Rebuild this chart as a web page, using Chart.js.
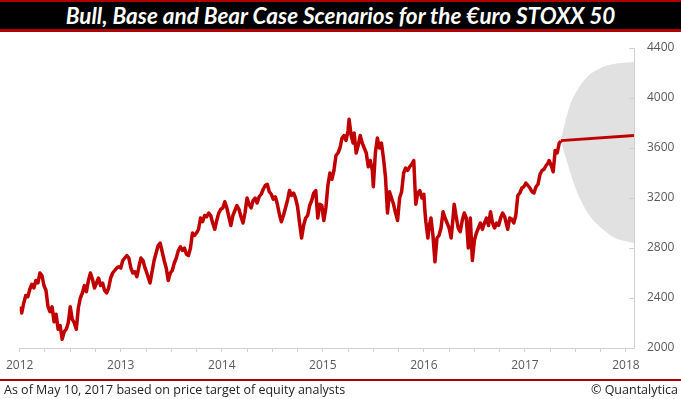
<!DOCTYPE html>
<html>
<head>
<meta charset="utf-8">
<script src="https://cdn.jsdelivr.net/npm/chart.js@4.4.1/dist/chart.umd.min.js"></script>
<style>
  html, body { margin:0; padding:0; background:#fff; }
  #wrap { position:relative; width:681px; height:399px; overflow:hidden; background:#fff; }
  #c { position:absolute; left:0; top:0; }
  #title { position:absolute; left:0; top:0; width:681px; height:27px; background:#000;
           border-top:2px solid #b00000; border-bottom:3px solid #b00000;
           color:#fff; text-align:center; font-family:Lato, "Open Sans", sans-serif;
           font-style:italic; font-weight:bold; font-size:19px; line-height:27px; white-space:nowrap; }
  #footline { position:absolute; left:0; top:379px; width:681px; height:2px; background:#b00000; }
  .foot { position:absolute; top:381px; font-family:"Open Sans", "Noto Sans", sans-serif; font-size:12.5px; color:#222; line-height:17px; white-space:nowrap; }
  #fl { left:4px; }
  #fr { right:3px; }
</style>
</head>
<body>
<div id="wrap">
  <canvas id="c" width="681" height="399"></canvas>
  <div id="title"><span id="tt">Bull, Base and Bear Case Scenarios for the €uro STOXX 50</span></div>
  <div id="footline"></div>
  <div class="foot" id="fl">As of May 10, 2017 based on price target of equity analysts</div>
  <div class="foot" id="fr">© Quantalytica</div>
</div>
<script>
// ---- data (decimal years, index level) ----
const histDates = [
2012.00,2012.02,2012.04,2012.06,2012.08,2012.10,2012.12,2012.14,2012.16,2012.18,2012.20,2012.22,2012.24,2012.26,2012.28,2012.30,2012.32,2012.34,2012.36,2012.38,2012.40,2012.42,2012.44,2012.46,2012.48,2012.49,2012.50,2012.52,2012.54,2012.56,2012.58,2012.60,2012.62,2012.64,2012.66,2012.68,2012.70,2012.72,2012.74,2012.76,2012.78,2012.80,2012.82,2012.84,2012.86,2012.88,2012.90,2012.92,2012.94,2012.96,2012.98,
2013.00,2013.02,2013.04,2013.06,2013.08,2013.10,2013.12,2013.14,2013.16,2013.18,2013.20,2013.22,2013.24,2013.25,2013.27,2013.29,2013.31,2013.33,2013.35,2013.37,2013.39,2013.41,2013.43,2013.45,2013.47,2013.49,2013.51,2013.53,2013.55,2013.57,2013.59,2013.61,2013.63,2013.65,2013.67,2013.69,2013.71,2013.73,2013.75,2013.77,2013.79,2013.81,2013.83,2013.85,2013.87,2013.89,2013.91,2013.93,2013.95,2013.97,2013.99,
2014.01,2014.03,2014.05,2014.07,2014.09,2014.11,2014.13,2014.15,2014.17,2014.19,2014.21,2014.23,2014.25,2014.27,2014.29,2014.31,2014.33,2014.35,2014.37,2014.39,2014.41,2014.43,2014.45,2014.47,2014.49,2014.51,2014.53,2014.55,2014.57,2014.59,2014.61,2014.63,2014.65,2014.67,2014.69,2014.71,2014.73,2014.75,2014.77,2014.79,2014.81,2014.83,2014.85,2014.87,2014.89,2014.91,2014.93,2014.95,2014.97,2014.99,
2015.01,2015.03,2015.05,2015.07,2015.09,2015.11,2015.13,2015.15,2015.17,2015.19,2015.21,2015.23,2015.25,2015.26,2015.28,2015.30,2015.31,2015.33,2015.35,2015.37,2015.39,2015.41,2015.43,2015.45,2015.47,2015.49,2015.50,2015.52,2015.54,2015.56,2015.58,2015.60,2015.62,2015.64,2015.66,2015.68,2015.70,2015.72,2015.74,2015.76,2015.78,2015.80,2015.82,2015.84,2015.86,2015.88,2015.90,2015.92,2015.94,2015.96,2015.98,
2016.00,2016.01,2016.02,2016.04,2016.05,2016.07,2016.09,2016.11,2016.13,2016.15,2016.17,2016.19,2016.21,2016.23,2016.25,2016.27,2016.29,2016.30,2016.32,2016.34,2016.36,2016.38,2016.40,2016.42,2016.44,2016.46,2016.48,2016.50,2016.52,2016.54,2016.56,2016.58,2016.60,2016.62,2016.64,2016.66,2016.68,2016.70,2016.72,2016.74,2016.76,2016.78,2016.80,2016.83,2016.85,2016.87,2016.89,2016.91,2016.93,2016.95,2016.97,2016.99,
2017.01,2017.03,2017.05,2017.07,2017.09,2017.11,2017.13,2017.15,2017.17,2017.19,2017.21,2017.23,2017.24,2017.26,2017.28,2017.30,2017.32,2017.34,2017.355
];
const histValues = [
2330,2280,2360,2420,2410,2470,2510,2480,2540,2520,2600,2580,2500,2460,2330,2290,2330,2210,2270,2150,2180,2070,2130,2150,2200,2260,2330,2230,2200,2150,2320,2400,2440,2500,2450,2540,2600,2550,2480,2520,2560,2500,2520,2460,2440,2480,2560,2600,2620,2640,2650,
2640,2700,2720,2740,2720,2640,2600,2610,2570,2650,2720,2700,2640,2620,2570,2520,2610,2700,2760,2820,2840,2770,2700,2640,2540,2600,2620,2680,2720,2780,2810,2780,2800,2750,2740,2800,2920,2900,2920,2950,3040,3010,3060,3050,3080,3060,3000,2950,3020,3080,3110,
3120,3170,3120,3050,2980,3060,3100,3140,3110,3050,3000,3080,3200,3150,3120,3180,3200,3160,3210,3230,3270,3300,3310,3250,3230,3190,3210,3150,3070,3010,3060,3120,3180,3260,3220,3240,3200,3130,3000,2880,2980,3040,3060,3140,3180,3240,3260,3040,3150,3140,
3020,3120,3300,3400,3350,3420,3540,3560,3600,3680,3700,3660,3740,3830,3700,3640,3720,3560,3620,3700,3640,3600,3560,3450,3500,3420,3290,3560,3680,3600,3640,3520,3370,3080,3250,3200,3150,3080,3020,3200,3250,3400,3440,3420,3450,3470,3500,3150,3240,3260,3200,
3230,3100,3010,2880,2960,3040,2900,2690,2880,2900,2960,3090,3040,3000,2960,2880,3050,3150,3050,2960,2930,3020,3080,3040,2800,3040,2700,2860,2920,2960,3000,2950,3000,3040,2980,3090,3000,2960,3000,2980,3040,3080,3050,2950,3040,3030,3000,3060,3220,3240,3280,3290,
3320,3300,3280,3250,3240,3290,3310,3390,3420,3430,3460,3480,3500,3460,3410,3580,3560,3640,3655
];
// base case (price target path)
const baseDates  = [2017.355, 2018.08];
const baseValues = [3659, 3700];
// bull / bear envelope read from the shaded cone
const bullDates  = [2017.355, 2017.404, 2017.454, 2017.52, 2017.618, 2017.75, 2017.878, 2018.08];
const bullValues = [3655, 3824, 3960, 4064, 4170, 4240, 4272, 4288];
const bearDates  = [2017.355, 2017.421, 2017.483, 2017.552, 2017.65, 2017.78, 2017.89, 2018.08];
const bearValues = [3655, 3480, 3320, 3184, 3048, 2944, 2880, 2840];
// axis ticks
const xMin = 2012, xMax = 2018.08, xStep = 0.25;
const yMin = 2000, yMax = 4400, yStep = 400;

const pts = (xs, ys) => xs.map((x, i) => ({x: x, y: ys[i]}));

// fit title width to reference
(function(){
  const t = document.getElementById('tt');
  const w = t.getBoundingClientRect().width;
  const target = 550;
  const fs = 19 * target / w;
  document.getElementById('title').style.fontSize = fs.toFixed(2) + 'px';
})();

const innerTicks = {
  id: 'innerTicks',
  afterDraw(chart) {
    const ctx = chart.ctx, y = chart.scales.y, area = chart.chartArea;
    ctx.save();
    ctx.strokeStyle = '#d0d0d0';
    ctx.lineWidth = 1;
    y.ticks.forEach(t => {
      const py = Math.round(y.getPixelForValue(t.value)) + 0.5;
      ctx.beginPath();
      ctx.moveTo(area.right - 5, py);
      ctx.lineTo(area.right, py);
      ctx.stroke();
    });
    ctx.restore();
  }
};

const axisFont = { family: '"Open Sans", "Noto Sans", sans-serif', size: 12 };

new Chart(document.getElementById('c'), {
  type: 'scatter',
  data: {
    datasets: [
      { label: 'Bull', data: pts(bullDates, bullValues), showLine: true, pointRadius: 0,
        borderWidth: 0, borderColor: 'rgba(0,0,0,0)', backgroundColor: '#e1e1e1',
        fill: '+1', tension: 0.4, cubicInterpolationMode: 'monotone', order: 3 },
      { label: 'Bear', data: pts(bearDates, bearValues), showLine: true, pointRadius: 0,
        borderWidth: 0, borderColor: 'rgba(0,0,0,0)', fill: false,
        tension: 0.4, cubicInterpolationMode: 'monotone', order: 4 },
      { label: 'Base', data: pts(baseDates, baseValues), showLine: true, pointRadius: 0,
        borderWidth: 3, borderColor: '#c00000', fill: false, order: 2 },
      { label: 'Euro STOXX 50', data: pts(histDates, histValues), showLine: true, pointRadius: 0,
        borderWidth: 3.5, borderColor: '#c00000', borderJoinStyle: 'round', fill: false, order: 1 }
    ]
  },
  options: {
    responsive: false,
    animation: false,
    devicePixelRatio: 1,
    layout: { padding: { top: 48, left: 17, right: 0, bottom: 0 } },
    plugins: { legend: { display: false }, tooltip: { enabled: false }, title: { display: false } },
    scales: {
      x: {
        type: 'linear', position: 'bottom', min: xMin, max: xMax,
        grid: { drawOnChartArea: false, drawTicks: true, tickLength: 4, color: '#d0d0d0' },
        border: { display: true, color: '#d0d0d0' },
        ticks: {
          stepSize: xStep, autoSkip: false, maxRotation: 0, includeBounds: false,
          color: '#595959', font: axisFont, padding: 6,
          callback: v => Number.isInteger(v) ? String(v) : ''
        },
        afterFit: s => { s.height = 51; }
      },
      y: {
        type: 'linear', position: 'right', min: yMin, max: yMax,
        grid: { drawOnChartArea: false, drawTicks: false },
        border: { display: true, color: '#d0d0d0' },
        ticks: { stepSize: yStep, color: '#595959', font: axisFont, padding: 13,
                 callback: v => String(v) },
        afterFit: s => { s.width = 47; }
      }
    }
  },
  plugins: [innerTicks]
});
</script>
</body>
</html>
